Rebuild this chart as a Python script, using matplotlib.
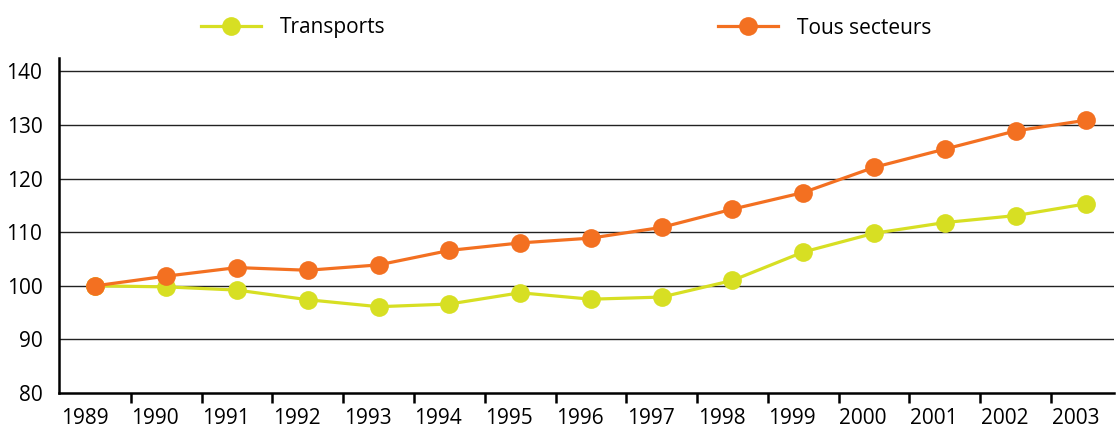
import matplotlib
matplotlib.use("Agg")
import matplotlib.pyplot as plt
from matplotlib.lines import Line2D
from matplotlib.transforms import ScaledTranslation

years = ["1989", "1990", "1991", "1992", "1993", "1994", "1995", "1996",
         "1997", "1998", "1999", "2000", "2001", "2002", "2003"]
transports = [100.0, 99.8, 99.2, 97.4, 96.1, 96.6, 98.7, 97.5, 97.9, 101.0,
              106.3, 109.8, 111.8, 113.1, 115.3]
tous_secteurs = [100.0, 101.8, 103.4, 102.9, 103.9, 106.6, 108.0, 108.9,
                 110.9, 114.3, 117.4, 122.1, 125.5, 128.9, 130.9]
yticks = [80, 90, 100, 110, 120, 130, 140]
series_names = ["Transports", "Tous secteurs"]

YELLOW = "#D7DF23"
ORANGE = "#F37021"

plt.rcParams['font.family'] = ['Open Sans', 'DejaVu Sans']

fig = plt.figure(figsize=(11.16, 4.30), dpi=100)
ax = fig.add_axes([59/1116, 1 - 393/430, (1114 - 59)/1116, (393 - 58)/430])

x = list(range(len(years)))
ax.plot(x, transports, color=YELLOW, lw=2.3, marker='o', ms=13.5,
        markeredgewidth=0, zorder=3, solid_capstyle='round')
ax.plot(x, tous_secteurs, color=ORANGE, lw=2.3, marker='o', ms=13.5,
        markeredgewidth=0, zorder=4, solid_capstyle='round')

ax.set_xlim(-0.515, 14.39)
ax.set_ylim(80, 142.5)

ax.set_yticks(yticks)
ax.set_yticklabels([str(v) for v in yticks], fontsize=15)
ax.tick_params(axis='y', length=0, pad=12)
for v in yticks[1:]:
    ax.axhline(v, color='#222222', lw=1.0, zorder=1)

# category ticks between years, labels at centers
ax.set_xticks([i + 0.5 for i in range(len(years) - 1)])
ax.set_xticklabels([])
ax.set_xticks(x, minor=True)
ax.set_xticklabels(years, minor=True, fontsize=15)
ax.tick_params(axis='x', which='major', length=7, width=1.8, direction='out', color='black')
ax.tick_params(axis='x', which='minor', length=0, pad=11)
offset = ScaledTranslation(-11/100, 0, fig.dpi_scale_trans)
for lab in ax.get_xticklabels(minor=True):
    lab.set_transform(lab.get_transform() + offset)

for s in ['top', 'right']:
    ax.spines[s].set_visible(False)
for s in ['left', 'bottom']:
    ax.spines[s].set_linewidth(1.8)
    ax.spines[s].set_color('black')

h1 = Line2D([], [], color=YELLOW, lw=2.3, marker='o', ms=13.5, markeredgewidth=0)
h2 = Line2D([], [], color=ORANGE, lw=2.3, marker='o', ms=13.5, markeredgewidth=0)
for h, name, xl in [(h1, series_names[0], 201/1116), (h2, series_names[1], 718/1116)]:
    fig.legend([h], [name], loc='center left', bbox_to_anchor=(xl, 1 - 28/430),
               frameon=False, fontsize=15, handlelength=2.9, handletextpad=0.9,
               borderpad=0, borderaxespad=0)

fig.savefig("out.png", dpi=100)
